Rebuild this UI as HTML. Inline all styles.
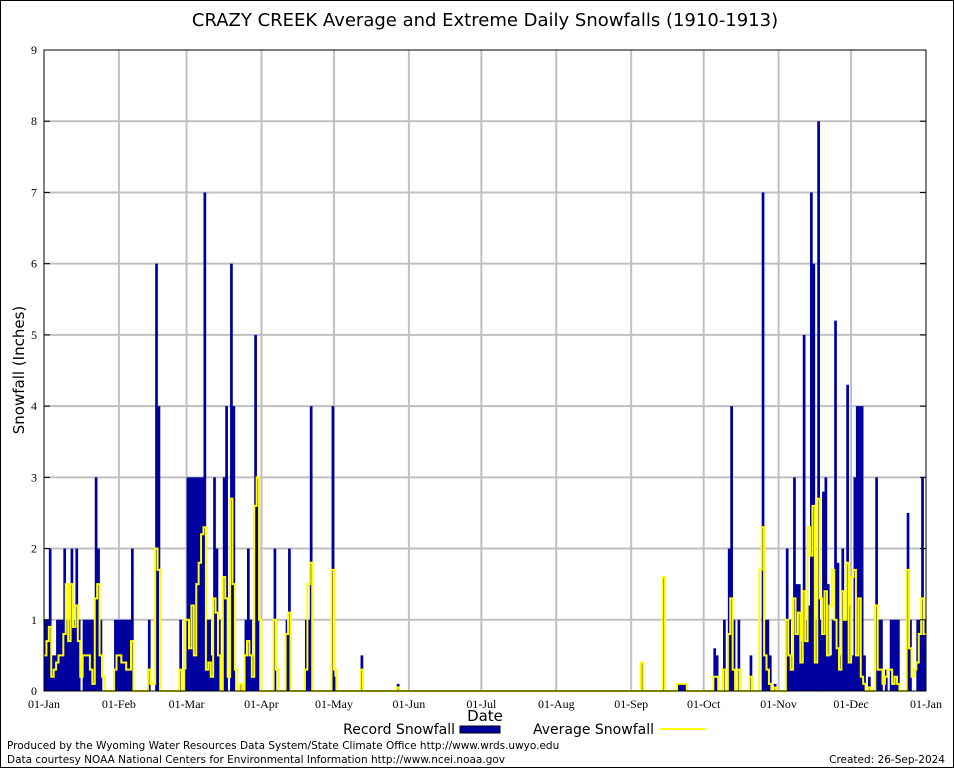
<!DOCTYPE html>
<html><head><meta charset="utf-8"><style>
body{margin:0;background:#fff;}
svg{display:block;font-family:"DejaVu Sans",sans-serif;}
.tk{font-family:"Liberation Serif",serif;}
</style></head><body>
<svg id="chart" width="954" height="768" viewBox="0 0 954 768">
<rect x="0.5" y="0.5" width="953" height="767" fill="#fff" stroke="#000" stroke-width="1"/>
<text x="485" y="26" font-size="18" text-anchor="middle">CRAZY CREEK Average and Extreme Daily Snowfalls (1910-1913)</text>
<text transform="translate(24,370) rotate(-90)" font-size="15" text-anchor="middle">Snowfall (Inches)</text>
<text x="485" y="721" font-size="15" text-anchor="middle">Date</text>
<g id="grid"></g>
<g id="bars"></g>
<path id="avg" fill="none" stroke="#ffff00" stroke-width="2"/>
<rect x="44" y="50" width="882" height="641" fill="none" stroke="#000" stroke-width="1"/>
<g id="axes"></g>
<g>
<text x="455" y="734" font-size="14" text-anchor="end">Record Snowfall</text>
<rect x="460" y="726" width="40" height="7" fill="#0000a0" stroke="#000" stroke-width="1"/>
<text x="654" y="734" font-size="14" text-anchor="end">Average Snowfall</text>
<line x1="660" y1="729" x2="706" y2="729" stroke="#ffff00" stroke-width="2"/>
</g>
<text x="7" y="749" font-size="10.5">Produced by the Wyoming Water Resources Data System/State Climate Office http://www.wrds.uwyo.edu</text>
<text x="7" y="763" font-size="10.5">Data courtesy NOAA National Centers for Environmental Information http://www.ncei.noaa.gov</text>
<text x="945" y="763" font-size="10.5" text-anchor="end">Created:  26-Sep-2024</text>
</svg>
<script>
const monthLabels = ["01-Jan","01-Feb","01-Mar","01-Apr","01-May","01-Jun","01-Jul","01-Aug","01-Sep","01-Oct","01-Nov","01-Dec","01-Jan"];
const monthStartDays = [0,31,59,90,120,151,181,212,243,273,304,334,365];
const yTicks = [0,1,2,3,4,5,6,7,8,9];
const recJan = [1,1,2,0.5,0.5,1,1,1,2,1,1,2,1,2,1,0,1,1,1,1,1,3,2,1,0,0,0,0,0,1,1];
const recFeb = [1,1,1,1,1,2,0,0,0,0,0,0,1,0,0,6,4,0,0,0,0,0,0,0,0,1,0,0.3];
const recMar = [3,3,3,3,3,3,3,7,1,1,0.5,3,2,1,0,3,4,0,6,4,0,0,0.1,0,1,2,1,0.5,5,3,0];
const recApr = [0,0,0,0,0,2,0,0,0,0,1,2,0,0,0,0,0,0,1,1,4,0,0,0,0,0,0,0,0,4];
const recMay = [0.2,0,0,0,0,0,0,0,0,0,0,0.5,0,0,0,0,0,0,0,0,0,0,0,0,0,0,0.1,0,0,0,0];
const recJun = [0,0,0,0,0,0,0,0,0,0,0,0,0,0,0,0,0,0,0,0,0,0,0,0,0,0,0,0,0,0];
const recJul = [0,0,0,0,0,0,0,0,0,0,0,0,0,0,0,0,0,0,0,0,0,0,0,0,0,0,0,0,0,0,0];
const recAug = [0,0,0,0,0,0,0,0,0,0,0,0,0,0,0,0,0,0,0,0,0,0,0,0,0,0,0,0,0,0,0];
const recSep = [0,0,0,0,0.4,0,0,0,0,0,0,0,0,1.6,0,0,0,0,0,0.1,0.1,0.1,0.1,0,0,0,0,0,0,0];
const recOct = [0,0,0,0,0.6,0.5,0,0,1,0,2,4,1,0,1,0,0,0,0,0.5,0,0,0,0,7,1,1,0.5,0,0.1,0];
const recNov = [0,0,0,2,1,0.5,3,1.5,1.5,0.7,5,1,1.2,7,6,1,8,1,2.8,3,1.5,0.5,1,5.2,1.8,0.5,2,1,4.3,1.2];
const recDec = [0.5,3,4,4,4,0.5,0,0.2,0,0,3,1,1,0,0.3,0,1,1,1,1,0,0,0,2.5,1,0,0,1,1,3,1];
const avgJan = [0.5,0.7,0.9,0.2,0.3,0.4,0.5,0.5,0.8,1.5,0.7,1.5,0.9,1.2,0.7,0.2,0.5,0.5,0.5,0.3,0.1,1.3,1.5,0.5,0.2,0,0,0,0,0.3,0.5];
const avgFeb = [0.5,0.4,0.4,0.3,0.3,0.7,0,0,0,0,0,0,0.3,0.1,0.1,2,1.7,0,0,0,0,0,0,0,0,0.3,0,1];
const avgMar = [1,0.6,1.2,0.5,1.5,1.8,2.2,2.3,0.3,0.4,0.2,1.3,1.1,0.5,0,1.6,1.3,0.2,2.7,1.5,0.3,0,0.1,0,0.5,0.7,0.5,0.2,2.6,3,1];
const avgApr = [0,0,0,0,0,1,0.3,0,0,0,0.8,1.1,0,0,0,0,0,0,0.3,1.5,1.8,0,0,0,0,0,0,0,0,1.7];
const avgMay = [0.3,0,0,0,0,0,0,0,0,0,0,0.3,0,0,0,0,0,0,0,0,0,0,0,0,0,0,0.05,0,0,0,0];
const avgJun = [0,0,0,0,0,0,0,0,0,0,0,0,0,0,0,0,0,0,0,0,0,0,0,0,0,0,0,0,0,0];
const avgJul = [0,0,0,0,0,0,0,0,0,0,0,0,0,0,0,0,0,0,0,0,0,0,0,0,0,0,0,0,0,0,0];
const avgAug = [0,0,0,0,0,0,0,0,0,0,0,0,0,0,0,0,0,0,0,0,0,0,0,0,0,0,0,0,0,0,0];
const avgSep = [0,0,0,0,0.4,0,0,0,0,0,0,0,0,1.6,0,0,0,0,0,0.1,0.1,0.1,0.1,0,0,0,0,0,0,0];
const avgOct = [0,0,0,0,0.2,0.2,0,0,0.3,0,0.8,1.3,0.3,0,0.3,0,0,0,0,0.2,0,0,0,1.7,2.3,0.5,0.3,0.1,0,0.05,0];
const avgNov = [0,0,0,1,0.5,0.3,1.3,0.8,1.1,0.4,1.4,0.7,2.3,1.9,2.6,0.4,2.7,1.3,0.8,1.4,0.5,1.2,1.7,1,0.6,0.3,1.4,1,1.8,0.4];
const avgDec = [1.6,1.7,0.5,1.3,0.2,0.1,0,0.05,0,0,1.2,0.3,0.3,0.1,0.2,0.3,0.3,0.1,0.2,0.1,0,0,0,1.7,0.6,0.2,0.3,0.4,0.8,1.3,0.8];

const record = [].concat(recJan,recFeb,recMar,recApr,recMay,recJun,recJul,recAug,recSep,recOct,recNov,recDec);
const average = [].concat(avgJan,avgFeb,avgMar,avgApr,avgMay,avgJun,avgJul,avgAug,avgSep,avgOct,avgNov,avgDec);

const NS = "http://www.w3.org/2000/svg";
const L = 44, R = 926, T = 50, B = 691, NDAYS = 365, YMAX = 9;
function xs(d){ return L + (R - L) * d / NDAYS; }
function ys(v){ return B - (B - T) * v / YMAX; }
function mk(tag, attrs, parent){ const e = document.createElementNS(NS, tag); for (const k in attrs) e.setAttribute(k, attrs[k]); parent.appendChild(e); return e; }

const grid = document.getElementById('grid');
const axes = document.getElementById('axes');
yTicks.forEach(function(t){
  const y = ys(t);
  if (t > 0 && t < YMAX) {
    const g = mk('line', {x1:L, x2:R, y1:y, y2:y, stroke:'#c0c0c0', 'stroke-width':2}, grid);
    
    
  }
  const tk = mk('line', {x1:L, x2:L+6, y1:y, y2:y, stroke:'#000'}, axes);
  
  
  const tk2 = mk('line', {x1:R-6, x2:R, y1:y, y2:y, stroke:'#000'}, axes);
  
  
  const lb = mk('text', {x:37, y:y+4, 'font-size':12, 'text-anchor':'end', 'class':'tk'}, axes);
  lb.textContent = t;
  
  
});
monthStartDays.forEach(function(d, i){
  const x = xs(d);
  if (i > 0 && i < monthStartDays.length - 1) {
    const g = mk('line', {x1:x, x2:x, y1:T, y2:B, stroke:'#c0c0c0', 'stroke-width':2}, grid);
    
    
  }
  const lb = mk('text', {x:x, y:708, 'font-size':12, 'text-anchor':'middle', 'class':'tk'}, axes);
  lb.textContent = monthLabels[i];
  
  
});

const bars = document.getElementById('bars');
record.forEach(function(v, d){
  if (v <= 0) return;
  const x0 = xs(d), x1 = xs(d + 1);
  const b = mk('rect', {x:x0, y:ys(v), width:x1 - x0 + 0.3, height:B - ys(v), fill:'#0000a0'}, bars);
  
  
});

let p = '';
average.forEach(function(v, d){
  const y = ys(v);
  p += (d === 0 ? 'M' : 'L') + xs(d).toFixed(2) + ',' + y.toFixed(2) + 'L' + xs(d + 1).toFixed(2) + ',' + y.toFixed(2);
});
document.getElementById('avg').setAttribute('d', p);
</script>
</body></html>
